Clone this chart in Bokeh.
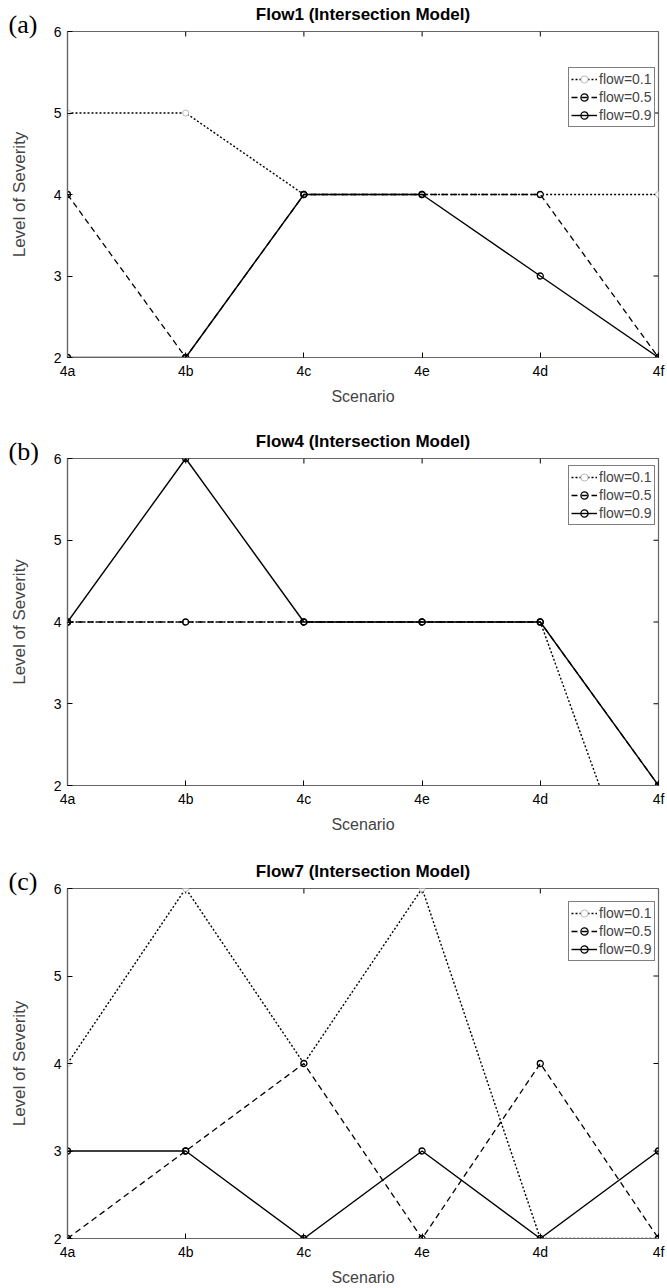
import math
from bokeh.plotting import figure
from bokeh.models import Range1d, FixedTicker, LinearAxis, Legend, LegendItem, Title
from bokeh.layouts import column
from bokeh.embed import file_html
from bokeh.resources import INLINE

# ---------------- data ----------------
categories = ["4a", "4b", "4c", "4e", "4d", "4f"]
y_ticks = [2, 3, 4, 5, 6]
series_labels = ["flow=0.1", "flow=0.5", "flow=0.9"]
panel_tags = ["(a)", "(b)", "(c)"]
panel_titles = ["Flow1 (Intersection Model)",
                "Flow4 (Intersection Model)",
                "Flow7 (Intersection Model)"]

flow1_f01 = [5, 5, 4, 4, 4, 4]
flow1_f05 = [4, 2, 4, 4, 4, 2]
flow1_f09 = [2, 2, 4, 4, 3, 2]

flow4_f01 = [4, 4, 4, 4, 4, 0]
flow4_f05 = [4, 4, 4, 4, 4, 2]
flow4_f09 = [4, 6, 4, 4, 4, 2]

flow7_f01 = [4, 6, 4, 6, 2, 2]
flow7_f05 = [2, 3, 4, 2, 4, 2]
flow7_f09 = [3, 3, 2, 3, 2, 3]

# ---------------- styling ----------------
FIG_W = 667
LEFT = 67
FRAME_W = 591
RIGHT = FIG_W - LEFT - FRAME_W
AXIS_COL = "#666666"
TICK_FONT = "Liberation Sans"
LABEL_FONT = "Liberation Sans"

line_styles = [
    dict(line_dash="2 2", line_width=1.4, line_color="black"),
    dict(line_dash="6 4", line_width=1.3, line_color="black"),
    dict(line_dash="solid", line_width=1.4, line_color="black"),
]
marker_styles = [
    dict(line_color="#bbbbbb", fill_color="white", line_width=1.0),
    dict(line_color="black", fill_color=None, line_width=1.3),
    dict(line_color="black", fill_color=None, line_width=1.3),
]


def style_axis(ax):
    ax.axis_line_color = AXIS_COL
    ax.axis_line_width = 1.2
    ax.major_tick_in = 5
    ax.major_tick_out = 0
    ax.major_tick_line_color = "black"
    ax.minor_tick_line_color = None
    ax.major_label_text_font = TICK_FONT
    ax.major_label_text_font_size = "14px"
    ax.major_label_text_color = "black"


def make_panel(idx, series, fig_h, border_top, frame_h, legend_top):
    border_bottom = fig_h - border_top - frame_h
    p = figure(width=FIG_W, height=fig_h, output_backend="svg", toolbar_location=None,
               x_range=Range1d(0, len(categories) - 1), y_range=Range1d(y_ticks[0], y_ticks[-1]),
               x_axis_location=None, y_axis_location=None,
               min_border_left=LEFT, min_border_right=RIGHT,
               min_border_top=border_top, min_border_bottom=border_bottom)
    p.title.text = ""
    p.grid.visible = False
    p.outline_line_color = AXIS_COL
    p.outline_line_width = 1.2
    p.background_fill_color = "white"
    p.border_fill_color = "white"

    # panel tag (nearest the frame) and the title above it
    tag = Title(text=panel_tags[idx], align="left", offset=8 - LEFT, vertical_align="bottom",
                standoff=-14, text_font="Liberation Serif", text_font_size="26px",
                text_font_style="normal", text_color="black")
    ttl = Title(text=panel_titles[idx], align="center", vertical_align="bottom",
                standoff=-18, text_font=LABEL_FONT, text_font_size="17px",
                text_font_style="bold", text_color="black")
    p.add_layout(tag, "above")
    p.add_layout(ttl, "above")

    xs = list(range(len(categories)))
    xt = FixedTicker(ticks=xs)
    yt = FixedTicker(ticks=y_ticks)

    xb = LinearAxis(ticker=xt, axis_label="Scenario")
    xb.major_label_overrides = {i: c for i, c in enumerate(categories)}
    style_axis(xb)
    xb.major_label_standoff = 5
    xb.axis_label_standoff = 6
    xb.axis_label_text_font = LABEL_FONT
    xb.axis_label_text_font_size = "16px"
    xb.axis_label_text_font_style = "normal"
    p.add_layout(xb, "below")

    yl = LinearAxis(ticker=yt, axis_label="Level of Severity")
    style_axis(yl)
    yl.major_label_standoff = 6
    yl.axis_label_standoff = 22
    yl.axis_label_text_font = LABEL_FONT
    yl.axis_label_text_font_size = "17px"
    yl.axis_label_text_font_style = "normal"
    p.add_layout(yl, "left")

    # inward mirror ticks on the top and right edges of the box
    p.ray(x=xs[1:-1], y=[y_ticks[-1]] * (len(xs) - 2), length=5, length_units="screen",
          angle=-math.pi / 2, line_color="black", line_width=1)
    p.ray(x=[xs[-1]] * (len(y_ticks) - 2), y=y_ticks[1:-1], length=5, length_units="screen",
          angle=math.pi, line_color="black", line_width=1)

    items = []
    for k, ys in enumerate(series):
        lr = p.line(xs, ys, **line_styles[k])
        sr = p.scatter(xs, ys, marker="circle", size=6, **marker_styles[k])
        items.append(LegendItem(label=series_labels[k], renderers=[lr, sr]))

    leg_h = 58
    leg = Legend(items=items, location=(501, frame_h - legend_top - leg_h),
                 orientation="vertical")
    leg.label_text_font = LABEL_FONT
    leg.label_text_font_size = "14px"
    leg.label_height = 18
    leg.glyph_height = 18
    leg.glyph_width = 26
    leg.label_standoff = 2
    leg.spacing = 0
    leg.padding = 2
    leg.margin = 0
    leg.border_line_color = "black"
    leg.border_line_width = 1
    leg.background_fill_color = "white"
    leg.background_fill_alpha = 1
    p.add_layout(leg, "center")
    return p


pa = make_panel(0, [flow1_f01, flow1_f05, flow1_f09], fig_h=420, border_top=31, frame_h=326, legend_top=38)
pb = make_panel(1, [flow4_f01, flow4_f05, flow4_f09], fig_h=430, border_top=38, frame_h=327, legend_top=9)
pc = make_panel(2, [flow7_f01, flow7_f05, flow7_f09], fig_h=438, border_top=38, frame_h=350, legend_top=15)

layout = column(pa, pb, pc, spacing=0)
open("out.html", "w").write(file_html(layout, INLINE))
